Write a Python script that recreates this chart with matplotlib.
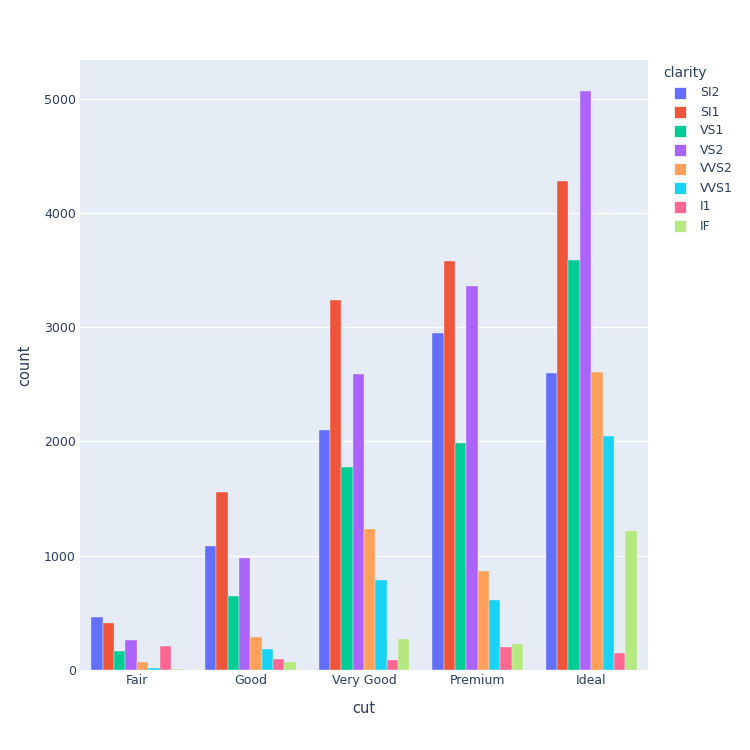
import numpy as np
import matplotlib.pyplot as plt
from matplotlib.patches import Rectangle

cuts = ["Fair", "Good", "Very Good", "Premium", "Ideal"]
clarities = ["SI2", "SI1", "VS1", "VS2", "VVS2", "VVS1", "I1", "IF"]
counts = {
    "SI2": [466, 1081, 2100, 2949, 2598],
    "SI1": [408, 1560, 3240, 3575, 4282],
    "VS1": [170, 648, 1775, 1989, 3589],
    "VS2": [261, 978, 2591, 3357, 5071],
    "VVS2": [69, 286, 1235, 870, 2606],
    "VVS1": [17, 186, 789, 616, 2047],
    "I1": [210, 96, 84, 205, 146],
    "IF": [9, 71, 268, 230, 1212],
}
colors = ["#636EFA", "#EF553B", "#00CC96", "#AB63FA", "#FFA15A", "#19D3F3", "#FF6692", "#B6E880"]

txt = "#2a3f5f"
bg = "#E5ECF6"
fig = plt.figure(figsize=(7.5, 7.5), dpi=100)
ax = fig.add_axes([80 / 750, 80 / 750, 568 / 750, 610 / 750])
ax.set_facecolor(bg)

x = np.arange(len(cuts))
w = 0.1
for i, c in enumerate(clarities):
    ax.bar(x - 0.35 + i * w, counts[c], width=w, color=colors[i], edgecolor=bg,
           linewidth=0.3, zorder=3)

ax.set_xlim(-0.5, len(cuts) - 0.5)
ax.set_ylim(0, 5338)
ax.set_yticks(range(0, 6000, 1000))
ax.set_xticks(x)
ax.set_xticklabels(cuts)
ax.grid(axis="y", color="white", linewidth=1, zorder=0)
for s in ax.spines.values():
    s.set_visible(False)
ax.tick_params(length=0, labelsize=9, labelcolor=txt)
ax.tick_params(axis="y", pad=3)
ax.tick_params(axis="x", pad=3)
ax.set_xlabel("cut", fontsize=10.5, color=txt, labelpad=10)
ax.set_ylabel("count", fontsize=10.5, color=txt, labelpad=8)

# legend drawn in pixel positions like plotly's
fig.text(663 / 750, 1 - 73 / 750, "clarity", fontsize=10, color=txt, va="center", ha="left")
for i, c in enumerate(clarities):
    yc = 93 + i * 19
    fig.patches.append(Rectangle((674 / 750, 1 - (yc + 6) / 750), 12 / 750, 12 / 750,
                                 transform=fig.transFigure, facecolor=colors[i],
                                 edgecolor="white", linewidth=0.5))
    fig.text(700 / 750, 1 - yc / 750, c, fontsize=9, color=txt, va="center", ha="left")

fig.savefig("out.png", dpi=100)
